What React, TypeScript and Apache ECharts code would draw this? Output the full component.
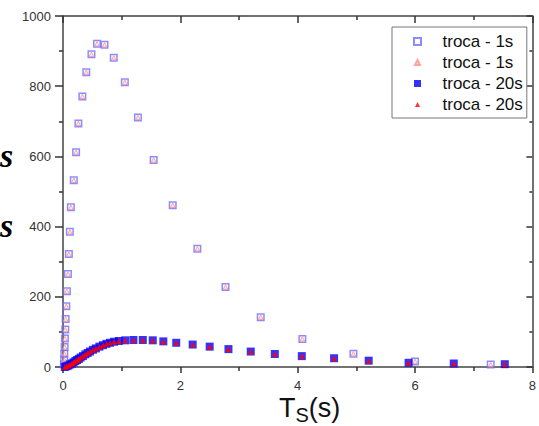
import React, { useEffect, useRef } from "react";
import * as echarts from "echarts";

// troca - 1s  : [Ts (s), value]
const troca1s: [number, number][] = [
  [0.015, 8], [0.02, 21], [0.022, 38], [0.028, 57], [0.033, 81], [0.039, 107],
  [0.045, 137], [0.056, 173], [0.067, 216], [0.084, 265], [0.1, 322], [0.117, 385],
  [0.134, 455], [0.184, 532], [0.223, 612], [0.262, 694], [0.33, 771], [0.397, 840],
  [0.485, 891], [0.58, 921], [0.708, 918], [0.865, 881], [1.054, 811], [1.277, 711],
  [1.545, 590], [1.87, 461], [2.29, 337], [2.77, 228], [3.37, 142], [4.08, 80],
  [4.95, 38], [6.0, 16], [7.29, 7],
];

// troca - 20s : [Ts (s), value]
const troca20s: [number, number][] = [
  [0.03, 0], [0.06, 2], [0.09, 4], [0.12, 7], [0.15, 10], [0.18, 13], [0.21, 17],
  [0.24, 20], [0.27, 23], [0.3, 27], [0.34, 31], [0.38, 36], [0.42, 40], [0.46, 44],
  [0.51, 49], [0.56, 53], [0.62, 58], [0.68, 62], [0.74, 66], [0.8, 69], [0.87, 72],
  [0.95, 74], [1.06, 76], [1.2, 77], [1.36, 77], [1.53, 76], [1.71, 73], [1.93, 69],
  [2.21, 64], [2.5, 58], [2.82, 51], [3.2, 44], [3.61, 37], [4.07, 31], [4.62, 25],
  [5.21, 18], [5.89, 12], [6.66, 10], [7.53, 8],
];

const legendNames = ["troca - 1s#a", "troca - 1s#b", "troca - 20s#a", "troca - 20s#b"];

const xRange = { min: 0, max: 8, interval: 2 };
const yRange = { min: 0, max: 1000, interval: 200 };

const FONT = "'Liberation Sans', Arial, sans-serif";

// legend icons (aspect kept; moveTo points pad the triangle so it draws smaller)
const ICON_SQUARE = "path://M0,0L10,0L10,10L0,10Z";
const ICON_TRI = "path://M0,0M14,14M7,2L12,12L2,12Z";

export default function App() {
  const ref = useRef<HTMLDivElement>(null);

  useEffect(() => {
    if (!ref.current) return;
    const chart = echarts.init(ref.current, null, { renderer: "svg" });

    const axisLine = { show: true, onZero: false, lineStyle: { color: "#444", width: 1.5 } };
    const tickStyle = { color: "#333", width: 1.5 };
    const plain = (v: number) => String(v);

    const option: any = {
      animation: false,
      backgroundColor: "#fff",
      textStyle: { fontFamily: FONT },
      grid: { left: 63, right: -2, top: 16, bottom: 59, containLabel: false },
      xAxis: [
        {
          type: "value", position: "bottom", ...xRange,
          axisLine,
          axisTick: { show: true, inside: false, length: 6, lineStyle: tickStyle },
          minorTick: { show: true, splitNumber: 2, length: 4, lineStyle: tickStyle },
          axisLabel: { fontSize: 13, color: "#333", margin: 12, fontFamily: FONT, formatter: plain },
          splitLine: { show: false },
        },
        {
          type: "value", position: "top", ...xRange,
          axisLine,
          axisTick: { show: true, inside: true, length: 7, lineStyle: tickStyle },
          minorTick: { show: true, splitNumber: 2, length: 4, lineStyle: tickStyle },
          axisLabel: { show: false },
          splitLine: { show: false },
        },
      ],
      yAxis: [
        {
          type: "value", position: "left", ...yRange,
          axisLine,
          axisTick: { show: true, inside: false, length: 8, lineStyle: tickStyle },
          minorTick: { show: true, splitNumber: 2, length: 4, lineStyle: tickStyle },
          axisLabel: { fontSize: 13, color: "#333", margin: 12, fontFamily: FONT, formatter: plain },
          splitLine: { show: false },
        },
        {
          type: "value", position: "right", ...yRange,
          axisLine,
          axisTick: { show: true, inside: true, length: 6, lineStyle: tickStyle },
          minorTick: { show: true, splitNumber: 2, length: 3, lineStyle: tickStyle },
          axisLabel: { show: false },
          splitLine: { show: false },
        },
      ],
      legend: {
        orient: "vertical",
        left: 392,
        top: 27,
        padding: [6, 4, 5, 21],
        itemGap: 4,
        itemWidth: 40,
        itemHeight: 7,
        symbolKeepAspect: true,
        borderColor: "#777",
        borderWidth: 1,
        backgroundColor: "#fff",
        textStyle: { fontSize: 17, color: "#111", fontFamily: FONT },
        formatter: (n: string) => n.replace(/#.*$/, ""),
        data: [
          { name: legendNames[0], icon: ICON_SQUARE },
          { name: legendNames[1], icon: ICON_TRI },
          { name: legendNames[2], icon: ICON_SQUARE },
          { name: legendNames[3], icon: ICON_TRI },
        ],
      },
      series: [
        {
          name: legendNames[0], type: "scatter", xAxisIndex: 0, yAxisIndex: 0,
          data: troca1s, symbol: "rect", symbolSize: 6.5, clip: false,
          itemStyle: { color: "rgba(255,255,255,0)", borderColor: "#6f6fff", borderWidth: 1.5 },
        },
        {
          name: legendNames[1], type: "scatter", xAxisIndex: 0, yAxisIndex: 0,
          data: troca1s, symbol: "triangle", symbolSize: 4.5, clip: false,
          itemStyle: { color: "rgba(255,220,220,0.6)", borderColor: "#ff8c8c", borderWidth: 1 },
        },
        {
          name: legendNames[2], type: "scatter", xAxisIndex: 0, yAxisIndex: 0,
          data: troca20s, symbol: "rect", symbolSize: 8, clip: false,
          itemStyle: { color: "#0000ff" },
        },
        {
          name: legendNames[3], type: "scatter", xAxisIndex: 0, yAxisIndex: 0,
          data: troca20s, symbol: "triangle", symbolSize: 6, clip: false,
          itemStyle: { color: "#ff0000" },
        },
      ],
      graphic: [
        {
          type: "text", x: 279, y: 408, silent: true,
          style: { text: "T", font: `27px ${FONT}`, fill: "#111", textVerticalAlign: "middle", textAlign: "left" },
        },
        {
          type: "text", x: 295.5, y: 414.5, silent: true,
          style: { text: "S", font: `20px ${FONT}`, fill: "#111", textVerticalAlign: "middle", textAlign: "left" },
        },
        {
          type: "text", x: 308.8, y: 408, silent: true,
          style: { text: "(s)", font: `27px ${FONT}`, fill: "#111", textVerticalAlign: "middle", textAlign: "left" },
        },
        {
          type: "text", x: 0, y: 155, silent: true,
          style: { text: "s", font: `italic bold 34px 'Liberation Serif', serif`, fill: "#000", textVerticalAlign: "middle", textAlign: "left" },
        },
        {
          type: "text", x: 0, y: 225, silent: true,
          style: { text: "s", font: `italic bold 34px 'Liberation Serif', serif`, fill: "#000", textVerticalAlign: "middle", textAlign: "left" },
        },
      ],
    };

    chart.setOption(option);
    return () => chart.dispose();
  }, []);

  return (
    <div
      ref={ref}
      style={{ position: "absolute", left: 0, top: 0, width: 539, height: 426, overflow: "hidden" }}
    />
  );
}
